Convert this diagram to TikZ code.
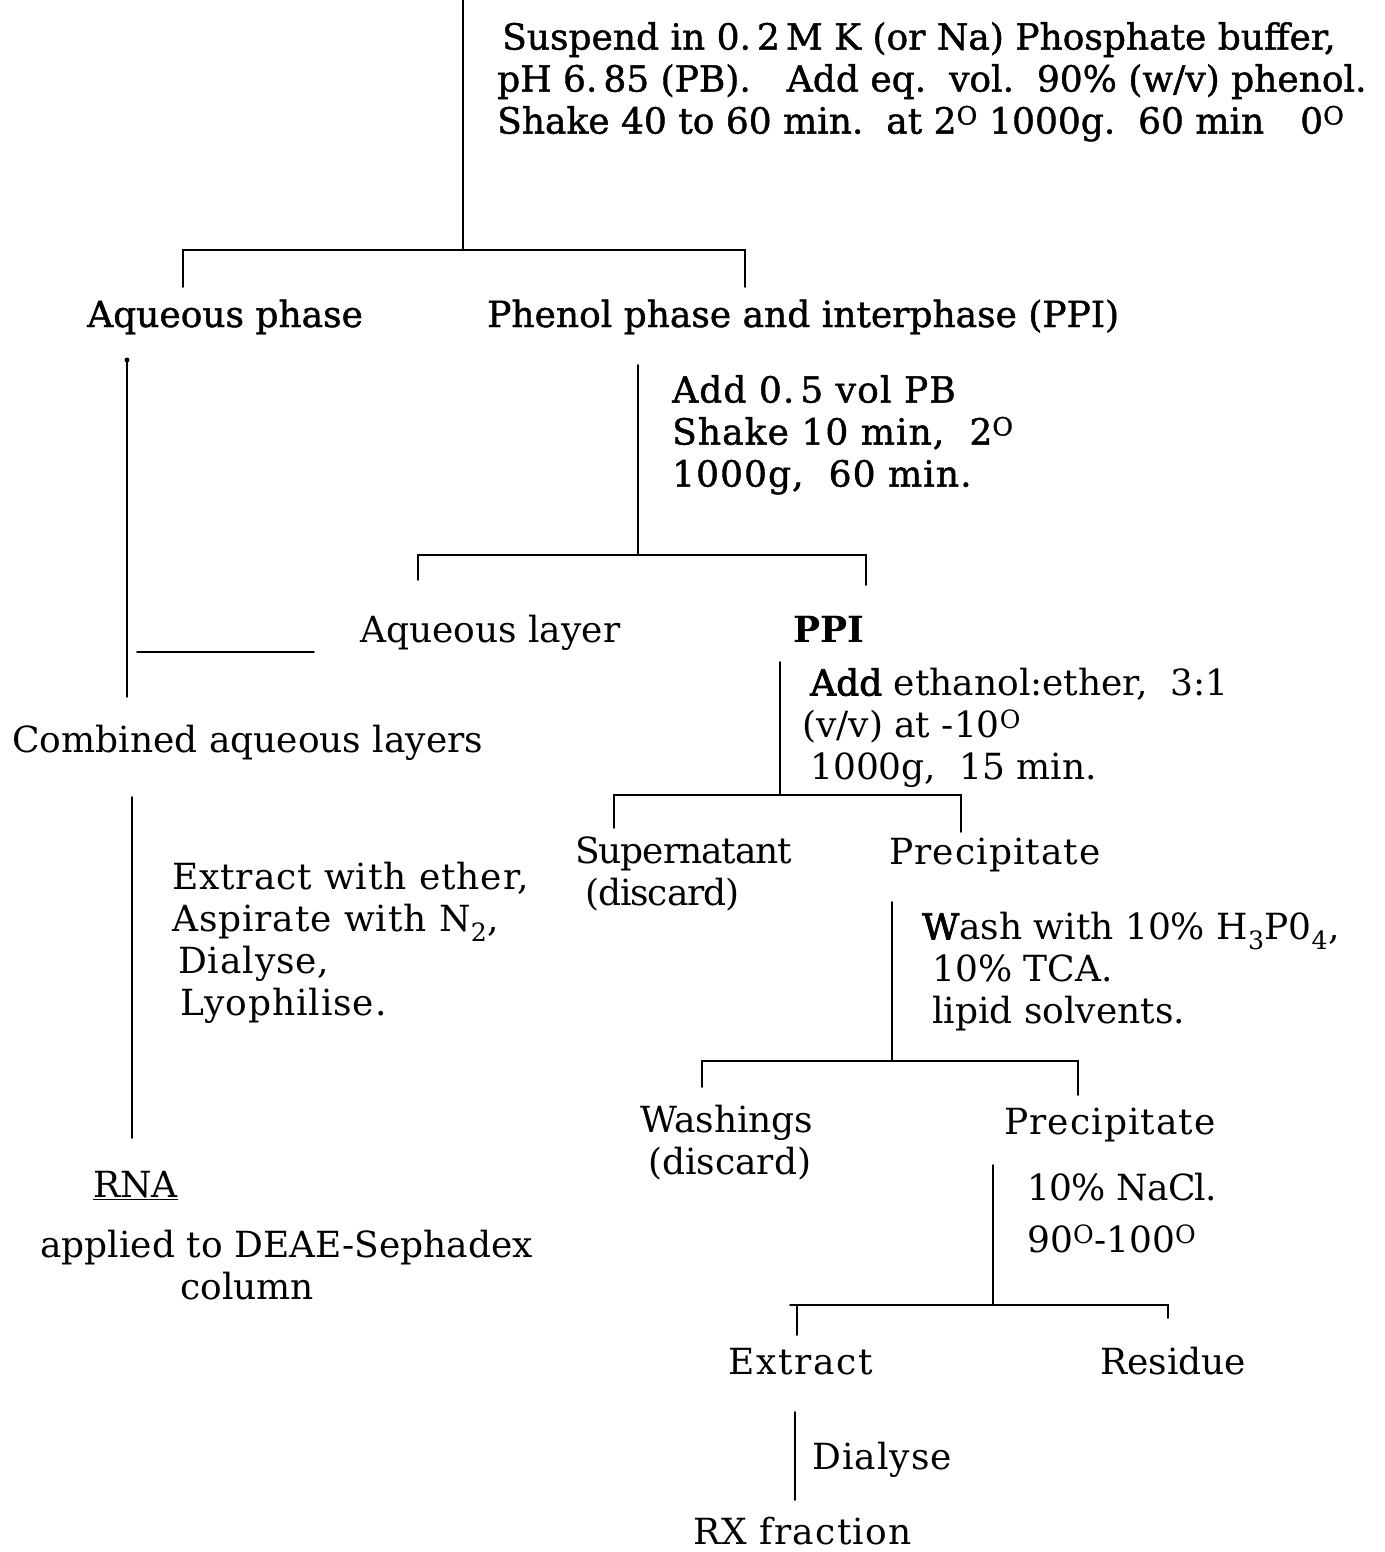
\documentclass[tikz,border=0pt]{standalone}
\usepackage{fontspec}
\setmainfont{DejaVu Serif}
\newfontfamily\heavyfont[FakeBold=1.2]{DejaVu Serif}
\newfontfamily\semiheavyfont[FakeBold=2.2]{DejaVu Serif}
\tikzset{
  lbl/.style={inner sep=0pt, anchor=base west, font=\fontsize{36}{42}\selectfont},
  blk/.style={inner sep=0pt, anchor=north west, align=left, font=\fontsize{36}{42}\selectfont},
  heavy/.style={font=\fontsize{36}{42}\heavyfont},
  ln/.style={line width=1.9pt, line cap=round},
}
\newcommand{\dg}{\textsuperscript{O}}
\newcommand{\lsp}[1]{\addfontfeatures{LetterSpace=#1}}
\begin{document}
\begin{tikzpicture}[x=1pt,y=-1pt]
\useasboundingbox (0,0) rectangle (1384,1552);

% ---- texts ----
\node[blk,heavy] (s1) at (497,22) {\hspace*{5pt}Suspend in 0.\,2\,M K (or Na) Phosphate buffer,\\pH 6.\,85 (PB).\quad Add eq.\ \ vol.\ \ 90\% (w/v) phenol.\\Shake 40 to 60 min.\ \ at 2\dg{} 1000g.\ \ 60 min\quad 0\dg};
\node[lbl,heavy] (aqph) at (87,327) {Aqueous phase};
\node[lbl,heavy] (ppi1) at (487,327) {Phenol phase and interphase (PPI)};
\node[blk,heavy] (s2) at (672,375) {\lsp{3}Add 0.\,5 vol PB\\\lsp{3}Shake 10 min,\ \ 2\dg\\\lsp{3}1000g,\ \ 60 min.};
\node[lbl] (aql) at (360,642) {Aqueous layer};
\node[lbl,font=\fontsize{36}{42}\selectfont\bfseries] (ppi2) at (793,642) {PPI};
\node[lbl] (comb) at (12,752) {Combined aqueous layers};
\node[blk] (s3) at (802,668) {\hspace*{8pt}{\semiheavyfont Add} ethanol:ether,\ \ 3:1\\(v/v) at -10\dg\\\hspace*{8pt}1000g,\ \ 15 min.};
\node[blk] (sup) at (575,837) {\lsp{-3}Supernatant\\\hspace*{10pt}\lsp{-3}(discard)};
\node[lbl] (prec1) at (889,864) {\lsp{3}Precipitate};
\node[blk] (s4) at (172,862) {\lsp{2.5}Extract with ether,\\\lsp{2.5}Aspirate with N\textsubscript{2},\\\hspace*{6pt}\lsp{2.5}Dialyse,\\\hspace*{8pt}\lsp{2.5}Lyophilise.};
\node[blk] (s5) at (922,912) {{\semiheavyfont W}ash with 10\% H\textsubscript{3}P0\textsubscript{4},\\\hspace*{10pt}10\% TCA.\\\hspace*{10pt}lipid solvents.};
\node[blk] (wash) at (640,1105) {Washings\\\hspace*{8pt}(discard)};
\node[lbl] (prec2) at (1004,1134) {\lsp{3}Precipitate};
\node[blk] (s6) at (1027,1173) {\lsp{-2}10\% NaCl.\\[10pt]90\dg-100\dg};
\node[lbl] (rna) at (93,1197) {\underline{RNA}};
\node[blk] (appl) at (40,1230) {applied to DEAE-Sephadex\\\hspace*{140pt}column};
\node[lbl] (extr) at (728,1374) {\lsp{5}Extract};
\node[lbl] (resid) at (1100,1374) {Residue};
\node[lbl] (dial) at (812,1469) {\lsp{3}Dialyse};
\node[lbl] (rx) at (693,1544) {\lsp{3.5}RX fraction};

% ---- connector coordinates ----
\coordinate (c0) at (463,0);
\coordinate (j1) at (463,250);
\coordinate (b1l) at (183,250);
\coordinate (b1r) at (745,250);
\coordinate (t1l) at (183,287);
\coordinate (t1r) at (745,287);

\coordinate (a1) at (127,360);
\coordinate (a2) at (127,697);
\coordinate (h1) at (137,652);
\coordinate (h2) at (314,652);
\coordinate (a3) at (132,797);
\coordinate (a4) at (132,1138);

\coordinate (p0) at (638,365);
\coordinate (j2) at (638,555);
\coordinate (b2l) at (418,555);
\coordinate (b2r) at (866,555);
\coordinate (t2l) at (418,580);
\coordinate (t2r) at (866,585);

\coordinate (q0) at (780,662);
\coordinate (j3) at (780,795);
\coordinate (b3l) at (614,795);
\coordinate (b3r) at (961,795);
\coordinate (t3l) at (614,828);
\coordinate (t3r) at (961,832);

\coordinate (r0) at (892,902);
\coordinate (j4) at (892,1061);
\coordinate (b4l) at (702,1061);
\coordinate (b4r) at (1078,1061);
\coordinate (t4l) at (702,1087);
\coordinate (t4r) at (1078,1095);

\coordinate (u0) at (993,1165);
\coordinate (j5) at (993,1305);
\coordinate (b5l) at (790,1305);
\coordinate (b5r) at (1168,1305);
\coordinate (t5l) at (797,1335);
\coordinate (t5r) at (1168,1318);

\coordinate (v0) at (795,1412);
\coordinate (v1) at (795,1500);

% ---- connectors ----
\draw[ln] (c0) -- (j1);
\draw[ln] (t1l) -- (b1l) -- (b1r) -- (t1r);
\fill (a1) circle (2.5pt);
\draw[ln] (a1) -- (a2);
\draw[ln] (h1) -- (h2);
\draw[ln] (a3) -- (a4);
\draw[ln] (p0) -- (j2);
\draw[ln] (t2l) -- (b2l) -- (b2r) -- (t2r);
\draw[ln] (q0) -- (j3);
\draw[ln] (t3l) -- (b3l) -- (b3r) -- (t3r);
\draw[ln] (r0) -- (j4);
\draw[ln] (t4l) -- (b4l) -- (b4r) -- (t4r);
\draw[ln] (u0) -- (j5);
\draw[ln] (b5l) -- (b5r) -- (t5r);
\draw[ln] (t5l) -- (t5l |- b5l);
\draw[ln] (v0) -- (v1);
\end{tikzpicture}
\end{document}
